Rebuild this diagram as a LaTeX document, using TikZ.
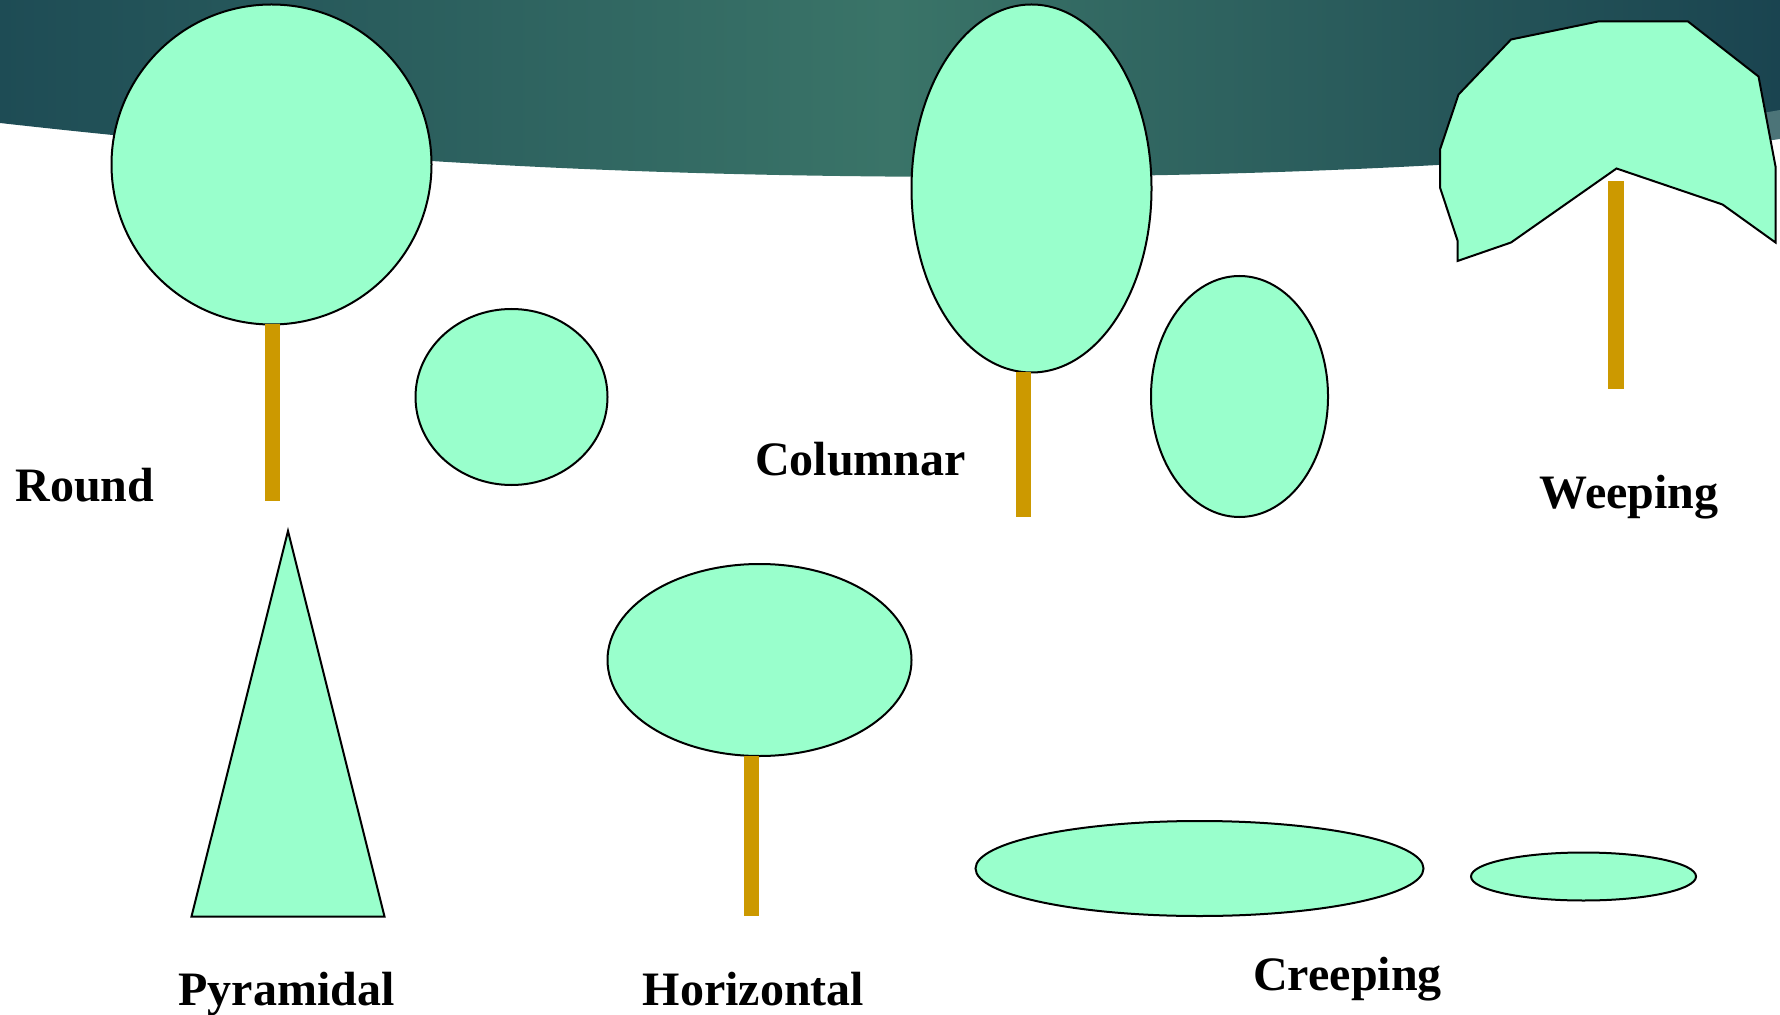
\documentclass[tikz,border=0pt]{standalone}
\usepackage{fontspec}
\setmainfont{Liberation Serif}
\usetikzlibrary{shapes.geometric}
\definecolor{crownfill}{HTML}{99FFCC}
\definecolor{barkfill}{HTML}{CC9900}
\definecolor{skyleft}{HTML}{1E4C55}
\definecolor{skymid}{HTML}{3A7468}
\definecolor{skyright}{HTML}{1A4450}
\definecolor{skyband}{HTML}{4C7478}
\tikzset{
  crown/.style={draw=black, line width=1pt, fill=crownfill, inner sep=0pt, ellipse},
  bark/.style={fill=barkfill},
  caption/.style={font=\bfseries\fontsize{24pt}{28pt}\selectfont, inner sep=0pt, anchor=base}
}
\begin{document}
\begin{tikzpicture}[x=0.5pt, y=-0.5pt]
\useasboundingbox (0,0) rectangle (1780,1015);
\fill[white] (0,0) rectangle (1780,1015);
% sky band across the top
\shade[left color=skyleft, right color=skyright, middle color=skymid]
  (0,0) -- (0,123) .. controls (400,168) and (700,177) .. (1000,177)
  .. controls (1300,176) and (1550,162) .. (1780,138) -- (1780,0) -- cycle;
\fill[skyband] (1700,124) -- (1780,110) -- (1780,139) -- (1700,150) -- cycle;

% Round
\node[crown, minimum width=320pt/2, minimum height=320pt/2] (roundbig) at (271.5,164.5) {};
\fill[bark] (264.5,324.5) rectangle (279.5,501);
\node[crown, minimum width=192pt/2, minimum height=176pt/2] (roundsmall) at (511.5,397) {};
\node[caption] (roundlbl) at (85,501.5) {Round};

% Columnar
\node[crown, minimum width=240pt/2, minimum height=368pt/2] (colbig) at (1031.5,188.5) {};
\fill[bark] (1016,372.5) rectangle (1031,517);
\node[crown, minimum width=177pt/2, minimum height=241pt/2] (colsmall) at (1239.5,396.5) {};
\node[caption] (collbl) at (860.5,475) {Columnar};

% Weeping
\coordinate (wtip) at (1616.5,168.5);
\filldraw[draw=black, line width=1pt, fill=crownfill, line join=miter]
  (1457.5,261) -- (1457.5,240.5) -- (1440,187.5) -- (1440,149.5) -- (1458.5,94.5)
  -- (1511,39.5) -- (1598,21.5) -- (1688,21.5) -- (1758.5,76.5) -- (1775.5,166.5)
  -- (1775.5,242.5) -- (1722.5,204.5) -- (wtip) -- (1511,242.5) -- cycle;
\fill[bark] (1608,181) rectangle (1624,389);
\node[caption] (weeplbl) at (1629,508) {Weeping};

% Pyramidal
\coordinate (pyrtop) at (288,531);
\coordinate (pyrleft) at (191.5,916.5);
\coordinate (pyrright) at (384.5,916.5);
\filldraw[draw=black, line width=1pt, fill=crownfill] (pyrtop) -- (pyrright) -- (pyrleft) -- cycle;
\node[caption] (pyrlbl) at (286.5,1005) {Pyramidal};

% Horizontal
\node[crown, minimum width=304pt/2, minimum height=192pt/2] (horcrown) at (759.5,660) {};
\fill[bark] (744,756) rectangle (759,916);
\node[caption] (horlbl) at (753.5,1005) {Horizontal};

% Creeping
\node[crown, minimum width=448pt/2, minimum height=95pt/2] (creepbig) at (1199.5,868.5) {};
\node[crown, minimum width=225pt/2, minimum height=48pt/2] (creepsmall) at (1583.5,876.5) {};
\node[caption] (creeplbl) at (1347.5,990) {Creeping};
\end{tikzpicture}
\end{document}
